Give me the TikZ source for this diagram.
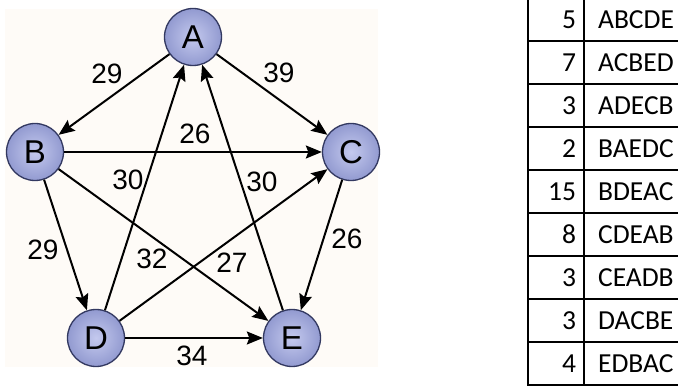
\documentclass[tikz,border=0pt]{standalone}
\usepackage{fontspec}
\setmainfont{Liberation Sans}
\newfontfamily\tabfont{Carlito}
\usetikzlibrary{arrows.meta,matrix}

\definecolor{vertexin}{RGB}{196,201,238}
\definecolor{vertexout}{RGB}{146,154,208}
\definecolor{vertexline}{RGB}{50,56,96}
\definecolor{paper}{RGB}{254,251,247}

\tikzset{>={Stealth[length=16pt,width=13pt,inset=2.5pt]},
	vertex/.style={circle, draw=vertexline, line width=1.3pt,
		shading=radial, inner color=vertexin, outer color=vertexout,
		minimum size=57pt, inner sep=0pt,
		font=\fontsize{33}{33}\selectfont},
	weight/.style={inner sep=0pt, font=\fontsize{28}{28}\selectfont},
	link/.style={->, line width=2pt}}

\begin{document}
\begin{tikzpicture}[x=1pt,y=-1pt]
	\useasboundingbox (0,0) rectangle (678,387);
	\begin{scope}
	\clip (0,0) rectangle (678,387);
	\fill[paper] (5,9) rectangle (378,367);

	% the five towns
	\node[vertex] (A) at (193,37) {A};
	\node[vertex] (B) at (35,152) {B};
	\node[vertex] (C) at (351,152) {C};
	\node[vertex] (D) at (96,338) {D};
	\node[vertex] (E) at (292,338) {E};

	% roads
	\draw[link] (A) -- (B);
	\draw[link] (A) -- (C);
	\draw[link] (B) -- (C);
	\draw[link] (B) -- (D);
	\draw[link] (B) -- (E);
	\draw[link] (C) -- (E);
	\draw[link] (D) -- (A);
	\draw[link] (D) -- (C);
	\draw[link] (D) -- (E);
	\draw[link] (E) -- (A);

	% distances
	\foreach \n/\x/\y/\w in {ab/107/74/29, ac/279/73/39, bc/195/134/26,
		da/128/180/30, ea/262/182/30, bd/43/250/29, be/152/259/32,
		dc/232/263/27, ce/347/239/26, de/192/356/34}
		\node[weight] (w\n) at (\x,\y) {\w};

	% number of runs per route
	\matrix (runs) [matrix of nodes, anchor=north west, inner sep=0pt,
		row sep=-1.8pt, column sep=-1.8pt,
		nodes={draw, line width=1.8pt, minimum height=43pt, inner ysep=0pt,
			text height=18pt, text depth=0pt,
			font=\tabfont\fontsize{27.5}{27.5}\selectfont},
		column 1/.style={nodes={text width=40pt, align=right, inner xsep=8pt}},
		column 2/.style={nodes={text width=120pt, align=left, inner xsep=14pt}}]
		at (527,-3)
	{
		5 & ABCDE \\
		7 & ACBED \\
		3 & ADECB \\
		2 & BAEDC \\
		15 & BDEAC \\
		8 & CDEAB \\
		3 & CEADB \\
		3 & DACBE \\
		4 & EDBAC \\
	};
	\end{scope}
\end{tikzpicture}
\end{document}
